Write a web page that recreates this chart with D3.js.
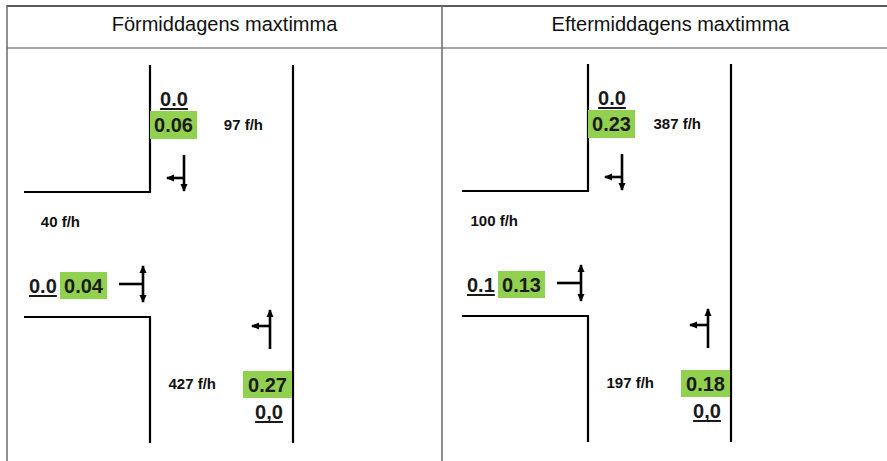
<!DOCTYPE html>
<html>
<head>
<meta charset="utf-8">
<script src="https://cdn.jsdelivr.net/npm/d3@7"></script>
<style>
  html, body { margin: 0; padding: 0; background: #fff; }
  svg { display: block; font-family: "Liberation Sans", Arial, sans-serif; }
</style>
</head>
<body>
<div id="chart"></div>
<script>
// data: två maxtimmar, tre tillfarter (norr, väster, söder)
const periods = ["Förmiddagens maxtimma", "Eftermiddagens maxtimma"];
const approaches = ["north", "west", "south"];
const flowsVph = [[97, 40, 427], [387, 100, 197]];
const degreeOfSaturation = [[0.06, 0.04, 0.27], [0.23, 0.13, 0.18]];
const queueLabels = [["0.0", "0.0", "0,0"], ["0.0", "0.1", "0,0"]];

const width = 887, height = 461;
const green = "#92D050";

// layout of one intersection sketch (local coords, left panel)
const layout = {
  north: {
    queue: {x: 174, y: 106, anchor: "middle"},
    box: {x: 150, y: 111, w: 47, h: 28},
    flow: {x: 263, y: 130},
    arrow: [[[184, 155], [184, 191]], [[184, 178], [167, 178]]]
  },
  west: {
    queue: {x: 29, y: 293, anchor: "start"},
    box: {x: 60, y: 272, w: 47, h: 27},
    flow: {x: 80, y: 227},
    arrow: [[[119, 284], [143, 284]], [[143, 284], [143, 302]], [[143, 284], [143, 266]]]
  },
  south: {
    queue: {x: 269, y: 419, anchor: "middle"},
    box: {x: 243, y: 371, w: 49, h: 27},
    flow: {x: 216, y: 389},
    arrow: [[[270, 349], [270, 310]], [[270, 326], [252, 326]]]
  }
};
const roads = [
  [[24, 192], [150, 192], [150, 65]],
  [[24, 317], [150, 317], [150, 443]],
  [[293, 65], [293, 443]]
];

const colX = d3.scaleOrdinal().domain(periods).range([7, 442]);
const colW = d3.scaleOrdinal().domain(periods).range([435, 457]);
const offset = d3.scaleOrdinal().domain(periods).range([[0, 0], [438, -1]]);
const fmt = d3.format(".2f");

const svg = d3.select("#chart").append("svg")
  .attr("width", width).attr("height", height);

svg.append("defs").append("marker")
  .attr("id", "head")
  .attr("viewBox", "0 0 8 8")
  .attr("refX", 7).attr("refY", 4)
  .attr("markerWidth", 8).attr("markerHeight", 8)
  .attr("markerUnits", "userSpaceOnUse")
  .attr("orient", "auto")
  .append("path").attr("d", "M0,0.5 L8,4 L0,7.5 Z").attr("fill", "#000");

// tabellram
svg.append("line").attr("x1", 7).attr("x2", width).attr("y1", 6).attr("y2", 6)
  .attr("stroke", "#5a5a5a").attr("stroke-width", 2);
svg.append("line").attr("x1", 7).attr("x2", width).attr("y1", 48).attr("y2", 48)
  .attr("stroke", "#a6a6a6").attr("stroke-width", 2);
[7, 442].forEach(x => {
  svg.append("line").attr("x1", x).attr("x2", x).attr("y1", 5).attr("y2", height)
    .attr("stroke", "#6a6a6a").attr("stroke-width", 1.5);
});

svg.selectAll("text.head")
  .data(periods)
  .join("text")
  .attr("class", "head")
  .attr("x", d => colX(d) + colW(d) / 2)
  .attr("y", 31)
  .attr("text-anchor", "middle")
  .attr("font-size", 20)
  .attr("fill", "#111")
  .text(d => d);

const line = d3.line();

periods.forEach((p, pi) => {
  const [dx, dy] = offset(p);
  const g = svg.append("g").attr("transform", `translate(${dx},${dy})`);

  g.selectAll("path.road")
    .data(roads)
    .join("path")
    .attr("class", "road")
    .attr("d", line)
    .attr("fill", "none")
    .attr("stroke", "#000")
    .attr("stroke-width", 2.2);

  approaches.forEach((a, ai) => {
    const L = layout[a];

    // pilar
    L.arrow.forEach((seg, si) => {
      const isHead = !(a === "west" && si === 0);
      g.append("path")
        .attr("d", line(seg))
        .attr("fill", "none")
        .attr("stroke", "#000")
        .attr("stroke-width", 2.6)
        .attr("marker-end", isHead ? "url(#head)" : null);
    });

    // belastningsgrad
    g.append("rect")
      .attr("x", L.box.x).attr("y", L.box.y)
      .attr("width", L.box.w).attr("height", L.box.h)
      .attr("fill", green);
    g.append("text")
      .attr("x", L.box.x + L.box.w / 2)
      .attr("y", L.box.y + L.box.h / 2 + 7)
      .attr("text-anchor", "middle")
      .attr("font-size", 20)
      .attr("font-weight", "bold")
      .attr("fill", "#1a1a1a")
      .text(fmt(degreeOfSaturation[pi][ai]));

    // kölängd, understruken
    const q = g.append("text")
      .attr("x", L.queue.x).attr("y", L.queue.y)
      .attr("text-anchor", L.queue.anchor)
      .attr("font-size", 20)
      .attr("font-weight", "bold")
      .attr("fill", "#1a1a1a")
      .text(queueLabels[pi][ai]);
    const bb = q.node().getBBox();
    g.append("line")
      .attr("x1", bb.x).attr("x2", bb.x + bb.width)
      .attr("y1", L.queue.y + 3).attr("y2", L.queue.y + 3)
      .attr("stroke", "#1a1a1a").attr("stroke-width", 2);

    // flöde
    g.append("text")
      .attr("x", L.flow.x).attr("y", L.flow.y)
      .attr("text-anchor", "end")
      .attr("font-size", 15)
      .attr("font-weight", "bold")
      .attr("fill", "#111")
      .text(`${flowsVph[pi][ai]} f/h`);
  });
});
</script>
</body>
</html>
